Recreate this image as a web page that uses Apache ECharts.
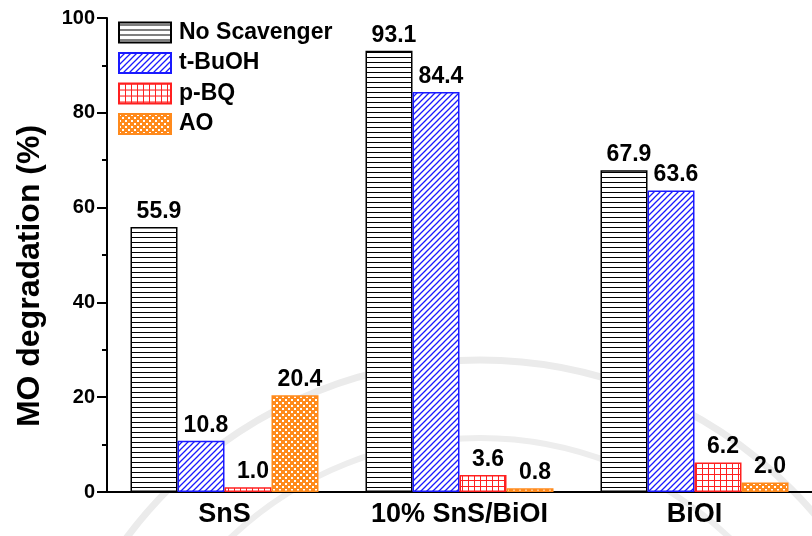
<!DOCTYPE html>
<html>
<head>
<meta charset="utf-8">
<script src="https://cdn.jsdelivr.net/npm/echarts@6/dist/echarts.min.js"></script>
<style>
  html, body { margin: 0; padding: 0; background: #fff; }
  #chart { width: 812px; height: 536px; }
</style>
</head>
<body>
<div id="chart"></div>
<script>
// Photocatalyst samples and MO degradation (%) under each scavenger
const categories = ['SnS', '10% SnS/BiOI', 'BiOI'];
const noScavenger = [55.9, 93.1, 67.9];
const tBuOH = [10.8, 84.4, 63.6];
const pBQ = [1.0, 3.6, 6.2];
const AO = [20.4, 0.8, 2.0];
const seriesNames = ['No Scavenger', 't-BuOH', 'p-BQ', 'AO'];
const yTicks = [0, 20, 40, 60, 80, 100];

const FONT = '"Liberation Sans", Arial, sans-serif';

// Small tiles used as repeating fill patterns for the bars
function tile(size, draw) {
  const c = document.createElement('canvas');
  c.width = size; c.height = size;
  const ctx = c.getContext('2d');
  ctx.fillStyle = '#fff';
  ctx.fillRect(0, 0, size, size);
  draw(ctx, size);
  return { image: c, repeat: 'repeat' };
}
const hLines = tile(5, (ctx) => {
  ctx.fillStyle = '#000';
  ctx.fillRect(0, 2, 5, 1);
});
const diagLines = tile(6, (ctx) => {
  ctx.strokeStyle = '#1a1aff';
  ctx.lineWidth = 1.3;
  ctx.beginPath();
  ctx.moveTo(-1, 7); ctx.lineTo(7, -1);
  ctx.moveTo(-1, 1); ctx.lineTo(1, -1);
  ctx.moveTo(5, 7); ctx.lineTo(7, 5);
  ctx.stroke();
});
const grid = tile(6, (ctx) => {
  ctx.fillStyle = '#ff2020';
  ctx.fillRect(0, 0, 6, 1);
  ctx.fillRect(0, 0, 1, 6);
});
const crossHatch = tile(6, (ctx) => {
  ctx.fillStyle = '#ff8a1c';
  ctx.fillRect(0, 0, 6, 6);
  ctx.fillStyle = '#fff';
  ctx.fillRect(0, 0, 2, 2);
  ctx.fillRect(3, 3, 2, 2);
});

const fills = [hLines, diagLines, grid, crossHatch];
const borders = ['#000000', '#1a1aff', '#ff2020', '#ff8a1c'];
const values = [noScavenger, tBuOH, pBQ, AO];

const series = seriesNames.map((name, i) => ({
  name: name,
  type: 'bar',
  xAxisIndex: 0,
  data: values[i],
  barGap: '0%',
  barCategoryGap: '20%',
  itemStyle: { color: fills[i], borderColor: borders[i], borderWidth: 1.5 },
  label: {
    show: true,
    position: 'top',
    distance: 4,
    offset: [5, 0],
    color: '#000',
    fontFamily: FONT,
    fontWeight: 'bold',
    fontSize: 23,
    formatter: (p) => p.value.toFixed(1)
  },
  z: 3
}));

const chart = echarts.init(document.getElementById('chart'), null, { renderer: 'canvas' });
chart.setOption({
  animation: false,
  backgroundColor: '#fff',
  grid: { left: 107, top: 18, width: 713, height: 474, containLabel: false },
  legend: {
    data: seriesNames,
    orient: 'vertical',
    left: 118,
    top: 21,
    padding: 0,
    itemWidth: 52,
    itemHeight: 20,
    itemGap: 7.5,
    icon: 'rect',
    textStyle: {
      fontFamily: FONT, fontWeight: 'bold', fontSize: 23, color: '#000',
      lineHeight: 20, padding: [0, 0, 0, 3]
    }
  },
  xAxis: [
    {
      type: 'category',
      data: categories,
      axisLine: { lineStyle: { color: '#000', width: 2 } },
      axisTick: { alignWithLabel: true, length: 8, lineStyle: { color: '#000', width: 2 } },
      axisLabel: {
        color: '#000', fontFamily: FONT, fontWeight: 'bold', fontSize: 27, margin: 9
      }
    },
    {
      // boundary ticks between the sample groups
      type: 'category',
      data: categories,
      position: 'bottom',
      axisLine: { show: false },
      axisTick: { length: 5, lineStyle: { color: '#000', width: 2 } },
      axisLabel: { show: false }
    }
  ],
  yAxis: {
    type: 'value',
    min: yTicks[0],
    max: yTicks[yTicks.length - 1],
    interval: 20,
    axisLine: { show: true, lineStyle: { color: '#000', width: 2 } },
    axisTick: { show: true, length: 10, lineStyle: { color: '#000', width: 2 } },
    minorTick: { show: true, splitNumber: 2, length: 5, lineStyle: { color: '#000', width: 2 } },
    splitLine: { show: false },
    axisLabel: {
      color: '#000', fontFamily: FONT, fontWeight: 'bold', fontSize: 20, margin: 12
    }
  },
  graphic: [
    // faint seal rings in the background
    {
      type: 'arc', z: -10, silent: true,
      shape: { cx: 480, cy: 800, r: 440, startAngle: Math.PI, endAngle: 2 * Math.PI },
      style: { fill: null, stroke: '#ebebeb', lineWidth: 7 }
    },
    {
      type: 'arc', z: -10, silent: true,
      shape: { cx: 480, cy: 800, r: 362, startAngle: Math.PI, endAngle: 2 * Math.PI },
      style: { fill: null, stroke: '#ededed', lineWidth: 6 }
    },
    {
      type: 'text',
      rotation: Math.PI / 2,
      x: 30,
      y: 276,
      style: {
        text: 'MO degradation (%)',
        font: 'bold 32px ' + FONT,
        fill: '#000',
        align: 'center',
        verticalAlign: 'middle'
      }
    }
  ],
  series: series
});
</script>
</body>
</html>
